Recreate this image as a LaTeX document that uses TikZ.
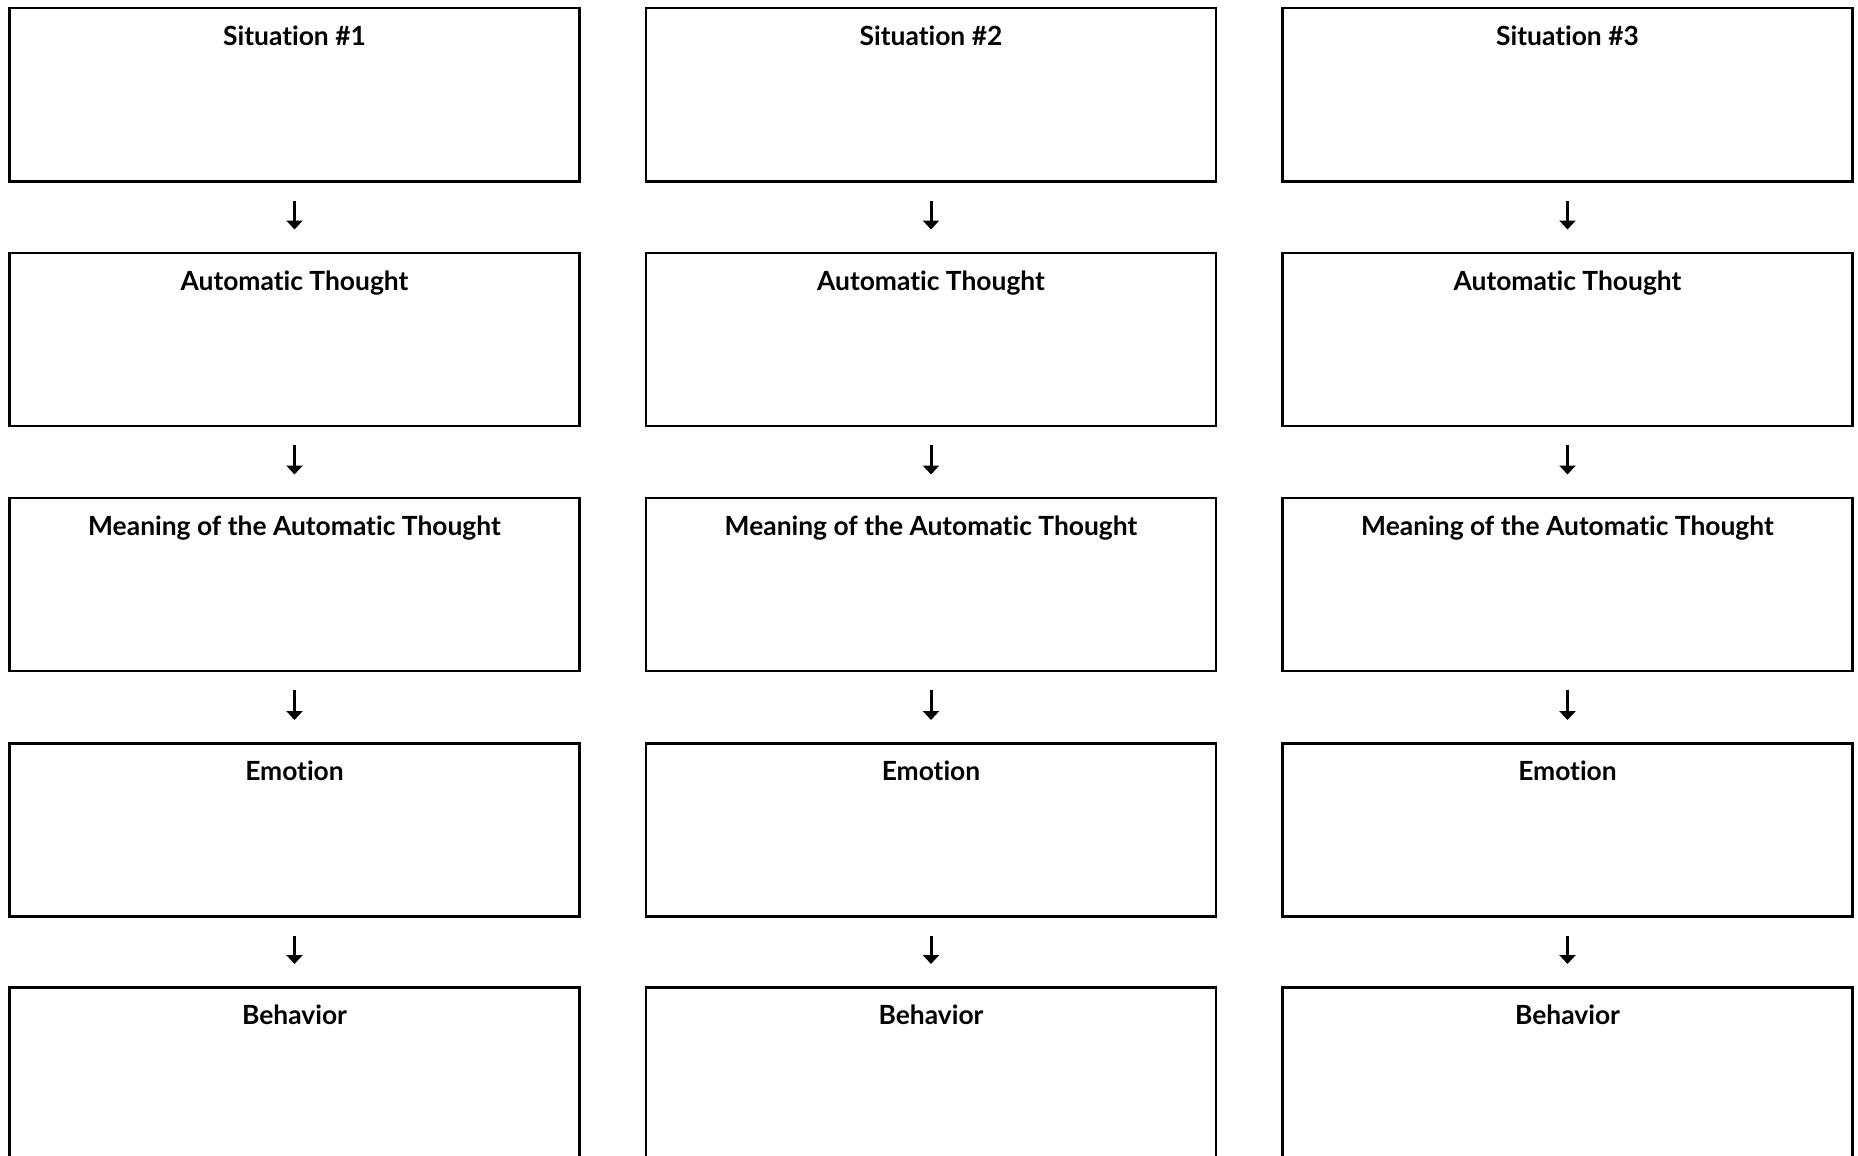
\documentclass[tikz,border=0pt]{standalone}
\usepackage{fontspec}
\newfontfamily\labfont{Lato}[Ligatures=NoCommon]
\usetikzlibrary{arrows.meta}
\begin{document}
\begin{tikzpicture}[x=0.5pt,y=-0.5pt,
  box/.style={draw=black,line width=1.25pt,minimum width=285pt,minimum height=86.5pt,anchor=north,inner sep=0pt},
  ttl/.style={font=\labfont\bfseries\fontsize{13.2}{15}\selectfont,anchor=base,inner sep=0pt},
  arr/.style={line width=1.5pt,-{Triangle[width=8pt,length=4.5pt]}}]
\useasboundingbox (0,0) rectangle (1858,1156);
\fill[white] (0,0) rectangle (1858,1156);
\foreach \c/\x in {1/294.5,2/931,3/1567.5}{
  \foreach \r/\y/\t in {1/7/{Situation \#\c},2/251.5/Automatic Thought,3/496.5/Meaning of the Automatic Thought,4/742/Emotion,5/986/Behavior}{
    \node[box] (b\c\r) at (\x,\y) {};
    \node[ttl] (t\c\r) at ([yshift=-19.3pt]b\c\r.north) {\t};
  }
  \foreach \r [evaluate=\r as \n using int(\r+1)] in {1,2,3,4}{
    \draw[arr] ([yshift=-9pt]b\c\r.south) -- ([yshift=11pt]b\c\n.north);
  }
}
\end{tikzpicture}
\end{document}
